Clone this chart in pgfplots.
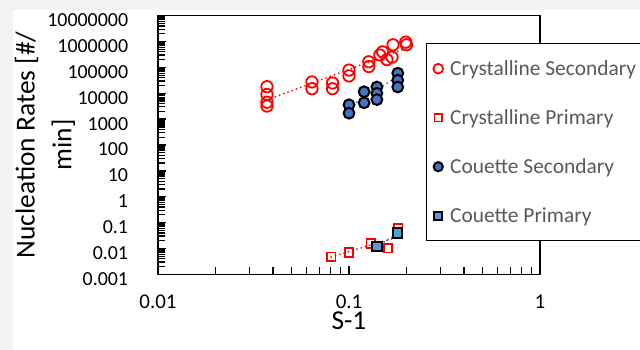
\documentclass[border=0pt]{standalone}
\usepackage{pgfplots}
\pgfplotsset{compat=1.18}
\usepackage{fontspec}
\setmainfont{Carlito}
\definecolor{cred}{HTML}{FF0000}
\definecolor{cblue}{HTML}{4472C4}
\definecolor{csq}{HTML}{5B9BD5}
\definecolor{bggray}{HTML}{F2F2F2}
\definecolor{legtext}{HTML}{595959}
\begin{document}
\begin{tikzpicture}
\useasboundingbox (-158bp,-75.7bp) rectangle (482bp,274.3bp);
\fill[bggray] (-158bp,-75.7bp) rectangle (482bp,274.3bp);
\fill[white] (-145bp,-75.7bp) rectangle (482bp,264.3bp);
\begin{axis}[
 at={(0,0)}, anchor=south west,
 scale only axis, width=382bp, height=258.6bp,
 xmode=log, ymode=log,
 xmin=0.01, xmax=1, ymin=0.001, ymax=1e7,
 xtick={0.01,0.1,1}, xticklabels={0.01,0.1,1},
 ytick={1e-3,1e-2,0.1,1,10,100,1000,1e4,1e5,1e6,1e7},
 yticklabels={0.001,0.01,0.1,1,10,100,1000,10000,100000,1000000,10000000},
 minor xtick={0.02,0.03,0.04,0.05,0.06,0.07,0.08,0.09,0.2,0.3,0.4,0.5,0.6,0.7,0.8,0.9},
 minor ytick={2e-3,3e-3,4e-3,5e-3,6e-3,7e-3,8e-3,9e-3,
  2e-2,3e-2,4e-2,5e-2,6e-2,7e-2,8e-2,9e-2,
  2e-1,3e-1,4e-1,5e-1,6e-1,7e-1,8e-1,9e-1,
  2,3,4,5,6,7,8,9,
  20,30,40,50,60,70,80,90,
  200,300,400,500,600,700,800,900,
  2e3,3e3,4e3,5e3,6e3,7e3,8e3,9e3,
  2e4,3e4,4e4,5e4,6e4,7e4,8e4,9e4,
  2e5,3e5,4e5,5e5,6e5,7e5,8e5,9e5,
  2e6,3e6,4e6,5e6,6e6,7e6,8e6,9e6},
 xtick pos=bottom, ytick pos=left, tick align=inside,
 major tick length=8bp, minor tick length=7bp,
 every tick/.style={black, line width=1.1bp},
 ytick style={black, line width=1.3bp},
 axis line style={line width=1.3bp},
 xticklabel style={font=\fontsize{21}{25}\selectfont, text=black, anchor=base, inner sep=0pt, yshift=-34bp},
 yticklabel style={font=\fontsize{20}{24}\selectfont, text=black, anchor=east, inner sep=0pt, xshift=-29.7bp, yshift=-4.5bp},
 xlabel={S-1},
 xlabel style={at={(axis description cs:0.5,-0.2135)}, anchor=base, font=\fontsize{27.5}{33}\selectfont},
 ylabel={Nucleation Rates [\#/\\min]},
 ylabel style={at={(axis description cs:-0.2958,0.5)}, anchor=center, align=center, font=\fontsize{27.5}{37}\selectfont},
 legend style={at={(axis description cs:0.7016,0.8933)}, anchor=north west, draw=black, line width=0.8bp, fill=white,
   inner xsep=7bp, inner ysep=14.5bp, row sep=28bp, column sep=7bp,
   font=\fontsize{21.5}{26}\selectfont, text=legtext,
   nodes={inner sep=0pt, text height=17bp, text depth=4bp}},
 legend cell align=left,
 legend image code/.code={\draw[#1, every mark/.append style={scale=0.85}] plot coordinates {(0bp,0bp)};},
]
\addplot[only marks, color=cred, mark=o, mark size=5.7bp, mark options={draw=cred, line width=1.8bp}] coordinates {
 (0.0372,18000) (0.0372,9000) (0.0372,4500) (0.0372,3200)
 (0.064,27500) (0.064,15000)
 (0.082,25000) (0.082,15000)
 (0.1,79000) (0.1,47000)
 (0.127,165000) (0.127,108000)
 (0.145,300000) (0.15,400000) (0.158,200000) (0.168,250000)
 (0.17,750000) (0.2,750000) (0.198,950000)
};
\addlegendentry{Crystalline Secondary}
\addplot[only marks, color=cred, mark=square, mark size=4.3bp, mark options={draw=cred, line width=1.7bp}] coordinates {
 (0.0806,0.0048) (0.1,0.007) (0.13,0.0155) (0.16,0.0102) (0.181,0.062)
};
\addlegendentry{Crystalline Primary}
\addplot[only marks, color=cblue, mark=*, mark size=5.4bp, mark options={draw=black, fill=cblue, line width=2bp}] coordinates {
 (0.1,3600) (0.1,1700)
 (0.12,11500) (0.12,4300)
 (0.14,17500) (0.14,10000) (0.14,5700)
 (0.18,60000) (0.18,32000) (0.18,17500)
};
\addlegendentry{Couette Secondary}
\addplot[only marks, color=csq, mark=square*, mark size=4.7bp, mark options={draw=black, fill=csq, line width=2bp}] coordinates {
 (0.14,0.0117) (0.18,0.039)
};
\addlegendentry{Couette Primary}
\addplot[forget plot, cred, line width=2bp, line cap=round, dash pattern=on 0bp off 4.5bp] coordinates {(0.0372,5500) (0.2,560000)};
\addplot[forget plot, cblue, line width=2bp, line cap=round, dash pattern=on 0bp off 4.5bp] coordinates {(0.1,3000) (0.18,44000)};
\addplot[forget plot, cred, line width=2bp, line cap=round, dash pattern=on 0bp off 4.5bp] coordinates {(0.0806,0.0047) (0.181,0.028)};
\addplot[forget plot, cblue, line width=2bp, line cap=round, dash pattern=on 0bp off 4.5bp] coordinates {(0.14,0.0117) (0.18,0.039)};
\end{axis}
\end{tikzpicture}
\end{document}
